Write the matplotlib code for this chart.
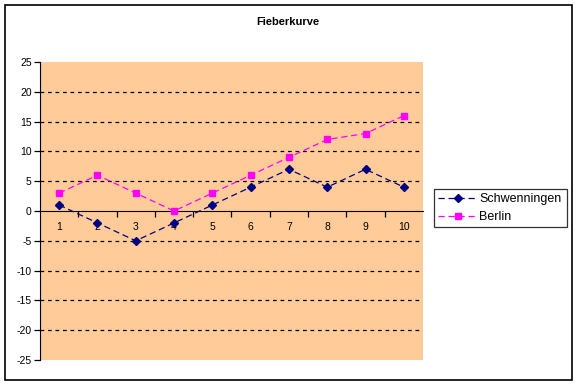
import matplotlib
matplotlib.use('Agg')
import matplotlib.pyplot as plt
import matplotlib.patches as mpatches
import matplotlib.ticker as ticker

tage = [1, 2, 3, 4, 5, 6, 7, 8, 9, 10]
schwenningen = [1, -2, -5, -2, 1, 4, 7, 4, 7, 4]
berlin = [3, 6, 3, 0, 3, 6, 9, 12, 13, 16]
y_ticks = [-25, -20, -15, -10, -5, 0, 5, 10, 15, 20, 25]

plt.rcParams['font.family'] = ['Liberation Sans', 'DejaVu Sans']
plt.rcParams['axes.unicode_minus'] = False

fig = plt.figure(figsize=(5.77, 3.85), dpi=100)
ax = fig.add_axes([40 / 577, 1 - 360 / 385, 383 / 577, 298 / 385])
ax.set_facecolor('#FFCC99')

# outer chart border
fig.patches.append(mpatches.Rectangle((5 / 577, 1 - 380 / 385), 567 / 577, 375 / 385,
                                      transform=fig.transFigure, fill=False,
                                      edgecolor='black', linewidth=1.2))

for g in [-20, -15, -10, -5, 5, 10, 15, 20]:
    ax.axhline(g, color='black', linestyle=(0, (3, 3)), linewidth=0.9, zorder=1)

ax.plot(tage, schwenningen, color='#000080', linestyle=(0, (5, 3)), linewidth=0.9,
        marker='D', markersize=4.5, label='Schwenningen', zorder=3)
ax.plot(tage, berlin, color='#FF00FF', linestyle=(0, (5, 3)), linewidth=0.9,
        marker='s', markersize=5, label='Berlin', zorder=3)

ax.set_xlim(0.5, 10.5)
ax.set_ylim(-25, 25)

ax.spines['top'].set_visible(False)
ax.spines['right'].set_visible(False)
ax.spines['bottom'].set_position(('data', 0))
ax.spines['bottom'].set_zorder(2)

ax.set_yticks(y_ticks)
ax.tick_params(axis='y', direction='out', length=4, width=0.9, labelsize=7.5, pad=2)

ax.xaxis.set_major_locator(ticker.FixedLocator([x + 0.5 for x in tage[:-1]]))
ax.xaxis.set_major_formatter(ticker.NullFormatter())
ax.xaxis.set_minor_locator(ticker.FixedLocator(tage))
ax.xaxis.set_minor_formatter(ticker.FixedFormatter([str(t) for t in tage]))
ax.tick_params(axis='x', which='major', direction='out', length=4, width=0.9)
ax.tick_params(axis='x', which='minor', length=0, labelsize=7.5, pad=8)

fig.text(288 / 577, 1 - 22 / 385, 'Fieberkurve', ha='center', va='center',
         fontsize=8, fontweight='bold')

leg = ax.legend(loc='center left', bbox_to_anchor=(434 / 577, 1 - 232 / 385, 133 / 577, 48 / 385),
                bbox_transform=fig.transFigure, mode='expand', fontsize=9, frameon=True,
                fancybox=False, edgecolor='black', handlelength=3.2, borderaxespad=0,
                borderpad=0.3, handletextpad=0.1, labelspacing=0.5)
leg.get_frame().set_linewidth(0.9)

fig.savefig('out.png', dpi=100)
